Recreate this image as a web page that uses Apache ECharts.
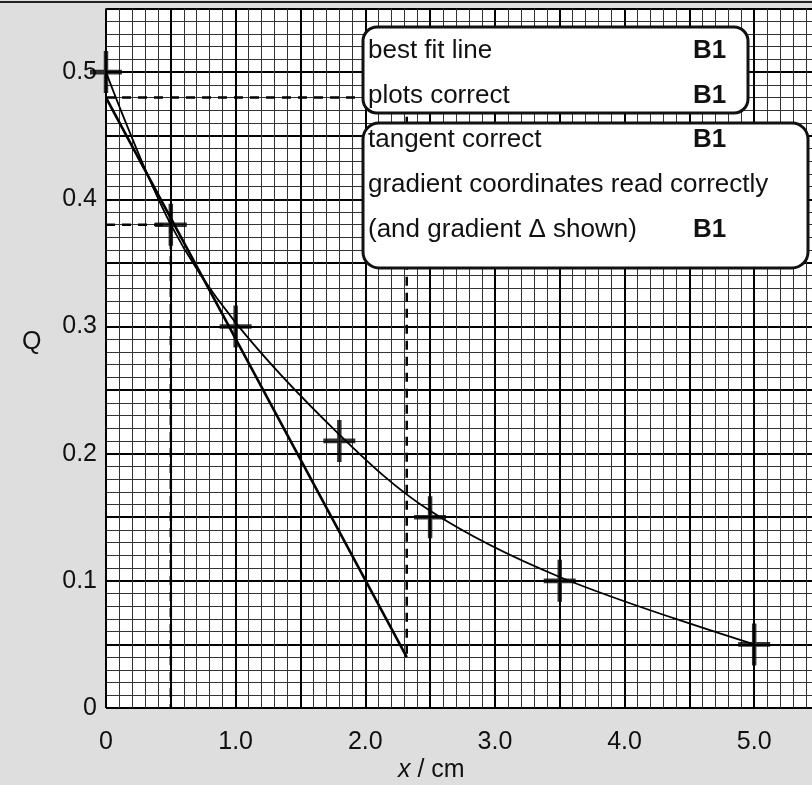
<!DOCTYPE html>
<html lang="en">
<head>
    <meta charset="UTF-8">
    <title>Q against x</title>
    <style>
        html, body { margin: 0; padding: 0; background: #dedede; }
        #chart { width: 812px; height: 785px; }
    </style>
</head>
<body>
    <div id="chart"></div>
    <script src="https://cdn.jsdelivr.net/npm/echarts@6/dist/echarts.min.js"></script>
    <script>
        // plotted readings (x / cm, Q)
        var xPoints = [0, 0.5, 1.0, 1.8, 2.5, 3.5, 5.0];
        var qPoints = [0.50, 0.38, 0.30, 0.21, 0.15, 0.10, 0.05];

        // best fit curve as drawn (passes a little above some plots)
        var curveX = [0, 0.5, 1.0, 1.8, 2.5, 3.5, 5.0];
        var curveQ = [0.50, 0.38, 0.303, 0.215, 0.155, 0.103, 0.05];

        // tangent drawn at x = 0.5
        var tangentX = [0, 2.32];
        var tangentQ = [0.48, 0.04];

        // dashed construction lines (gradient triangle + reading at x = 0.5)
        var dashA = [[0, 0.48], [2.32, 0.48], [2.32, 0.04]];
        var dashB = [[0, 0.38], [0.5, 0.38], [0.5, 0]];

        // mark scheme notes
        var notesTop = [['best fit line', 'B1'], ['plots correct', 'B1']];
        var notesBottom = [['tangent correct', 'B1'], ['gradient coordinates read correctly', ''], ['(and gradient \u0394 shown)', 'B1']];

        var font = "'Liberation Sans', Arial, sans-serif";

        function zip(xs, ys) {
            return xs.map(function (v, i) { return [v, ys[i]]; });
        }

        function noteTexts(rows, top) {
            var out = [];
            rows.forEach(function (r, i) {
                var y = top + i * 45;
                out.push({ type: 'text', left: 368, top: y - 15, z: 20,
                    style: { text: r[0], font: '26px ' + font, fill: '#111' } });
                if (r[1]) {
                    out.push({ type: 'text', left: 693, top: y - 15, z: 20,
                        style: { text: r[1], font: 'bold 26px ' + font, fill: '#111' } });
                }
            });
            return out;
        }

        var chart = echarts.init(document.getElementById('chart'));

        var option = {
            backgroundColor: '#dedede',
            animation: false,
            grid: {
                left: 106, top: 8.5, width: 713, height: 699.5,
                outerBoundsMode: 'none',
                show: true, backgroundColor: '#ffffff', borderWidth: 0
            },
            xAxis: {
                type: 'value', min: 0, max: 5.5, interval: 0.5,
                axisLine: { show: false }, axisTick: { show: false },
                axisLabel: {
                    margin: 22, fontSize: 25, color: '#111', fontFamily: font,
                    formatter: function (v) {
                        if (Math.abs(v - Math.round(v)) > 1e-6) return '';
                        return v === 0 ? '0' : v.toFixed(1);
                    }
                },
                splitLine: { show: true, lineStyle: { color: '#000', width: 2 } },
                minorTick: { show: false, splitNumber: 5 },
                minorSplitLine: { show: true, lineStyle: { color: '#333', width: 1 } }
            },
            yAxis: {
                type: 'value', min: 0, max: 0.55, interval: 0.05,
                axisLine: { show: false }, axisTick: { show: false },
                axisLabel: {
                    margin: 9, fontSize: 25, color: '#111', fontFamily: font,
                    formatter: function (v) {
                        var t = v * 10;
                        if (Math.abs(t - Math.round(t)) > 1e-6) return '';
                        return v === 0 ? '0' : v.toFixed(1);
                    }
                },
                splitLine: { show: true, lineStyle: { color: '#000', width: 2 } },
                minorTick: { show: false, splitNumber: 5 },
                minorSplitLine: { show: true, lineStyle: { color: '#333', width: 1 } }
            },
            series: [
                {
                    type: 'line', data: zip(curveX, curveQ), smooth: 0.35,
                    symbol: 'none', lineStyle: { color: '#000', width: 1.8 }, z: 5
                },
                {
                    type: 'line', data: zip(tangentX, tangentQ),
                    symbol: 'none', lineStyle: { color: '#000', width: 2.6 }, z: 6
                },
                {
                    type: 'line', data: dashA, symbol: 'none',
                    lineStyle: { color: '#000', width: 2.5, type: [9, 7] }, z: 4
                },
                {
                    type: 'line', data: dashB, symbol: 'none',
                    lineStyle: { color: '#000', width: 2.5, type: [9, 7] }, z: 4
                },
                {
                    type: 'scatter', data: zip(xPoints, qPoints),
                    symbol: 'path://M-1.4,-10 H1.4 V-1.1 H10 V1.1 H1.4 V10 H-1.4 V1.1 H-10 V-1.1 H-1.4 Z',
                    symbolSize: [32, 42],
                    itemStyle: { color: '#000' }, z: 7
                }
            ],
            graphic: [
                { type: 'line', shape: { x1: 0, y1: 2, x2: 812, y2: 2 }, style: { stroke: '#222', lineWidth: 2 } },
                { type: 'text', left: 22, top: 330, style: { text: 'Q', font: '25px ' + font, fill: '#111' } },
                { type: 'text', left: 398, top: 758, style: { text: '{i|x} / cm', font: '25px ' + font, fill: '#111',
                    rich: { i: { fontStyle: 'italic', fontSize: 25, fontFamily: font, fill: '#111' } } } },
                { type: 'rect', z: 15, shape: { x: 363, y: 27, width: 385, height: 86, r: 14 },
                    style: { fill: '#fff', stroke: '#111', lineWidth: 3 } },
                { type: 'rect', z: 15, shape: { x: 363, y: 123, width: 445, height: 145, r: 16 },
                    style: { fill: '#fff', stroke: '#111', lineWidth: 3 } }
            ].concat(noteTexts(notesTop, 53)).concat(noteTexts(notesBottom, 142))
        };

        chart.setOption(option);
    </script>
</body>
</html>
